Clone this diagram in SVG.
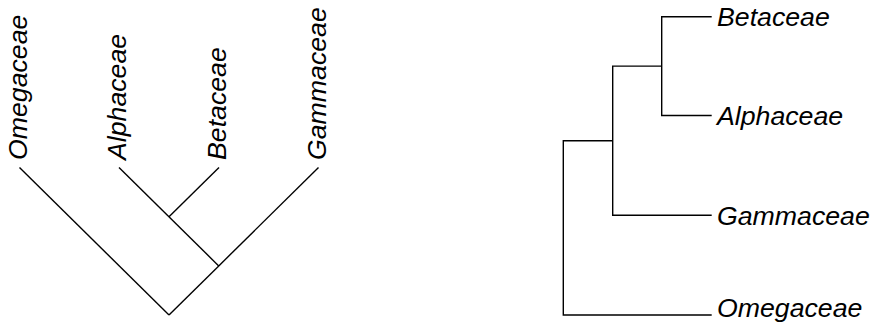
<svg xmlns="http://www.w3.org/2000/svg" width="876" height="327" viewBox="0 0 876 327">
<style>
.e{stroke:#000;stroke-width:1.4;fill:none;stroke-linecap:butt;stroke-linejoin:miter}
.t{font-family:"Liberation Sans",Arial,sans-serif;font-style:italic;font-size:26.7px;fill:#000}
</style>
<rect width="876" height="327" fill="#fff"/>
<g id="connectors">
<g id="left-edges">
<line class="e" x1="19.5" y1="167.5" x2="169" y2="315"/>
<line class="e" x1="119" y1="167.5" x2="218.75" y2="265.9"/>
<line class="e" x1="219" y1="167.5" x2="169" y2="216.8"/>
<line class="e" x1="318.5" y1="167.5" x2="218.75" y2="265.9"/>
<line class="e" x1="218.75" y1="265.9" x2="169" y2="315"/>
</g>
<g id="right-edges">
<path class="e" d="M711.7,16.7 H661.7 V115.5 H711.7"/>
<path class="e" d="M661.7,66.1 H612.7 V215.3 H711.7"/>
<path class="e" d="M612.7,140.7 H563.3 V315 H711.7"/>
</g>
</g>
<g id="left-Omegaceae"><text class="t" transform="translate(26.8,160) rotate(-90)">Omegaceae</text></g>
<g id="left-Alphaceae"><text class="t" transform="translate(126.3,160) rotate(-90)">Alphaceae</text></g>
<g id="left-Betaceae"><text class="t" transform="translate(226.3,160) rotate(-90)">Betaceae</text></g>
<g id="left-Gammaceae"><text class="t" transform="translate(325.8,160) rotate(-90)">Gammaceae</text></g>
<g id="right-Betaceae"><text class="t" x="717" y="26.2">Betaceae</text></g>
<g id="right-Alphaceae"><text class="t" x="717" y="125">Alphaceae</text></g>
<g id="right-Gammaceae"><text class="t" x="717" y="224.8">Gammaceae</text></g>
<g id="right-Omegaceae"><text class="t" x="717" y="316.5">Omegaceae</text></g>
</svg>
